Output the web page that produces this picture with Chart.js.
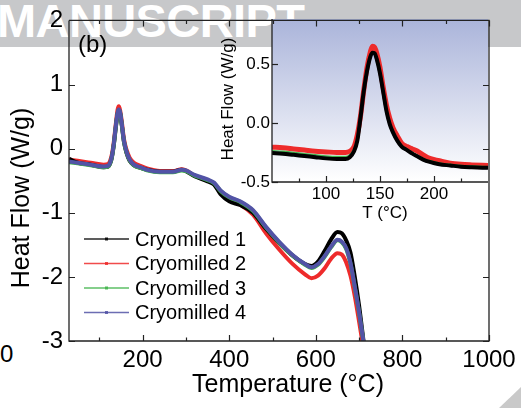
<!DOCTYPE html>
<html lang="en">
<head>
<meta charset="UTF-8">
<title>DSC - Cryomilled</title>
<script src="https://cdn.jsdelivr.net/npm/chart.js@4"></script>
<style>
    body {
        margin: 0;
        padding: 0;
        background: #ffffff;
    }
    #wrap {
        position: relative;
        width: 521px;
        height: 408px;
        overflow: hidden;
        font-family: 'Liberation Sans', Arial, sans-serif;
    }
    #band {
        position: absolute;
        left: 0; top: 0;
        width: 521px; height: 47px;
        background: #c7c8ca;
    }
    #mark {
        position: absolute;
        left: -3px; top: -3px;
        font-size: 47px;
        line-height: 47px;
        font-weight: bold;
        letter-spacing: -0.6px;
        color: #ffffff;
        white-space: nowrap;
    }
    #corner {
        position: absolute;
        left: 0; top: 0;
        width: 521px; height: 408px;
        background: #c9c9c9;
        clip-path: polygon(521px 387px, 521px 408px, 499px 408px);
    }
    #lost {
        position: absolute;
        left: 0px; top: 340px;
        font-size: 24px;
        color: #000;
    }
    canvas {
        position: absolute;
        left: 0; top: 0;
    }
</style>
</head>
<body>
<div id="wrap">
    <div id="band"></div>
    <div id="mark">MANUSCRIPT</div>
    <div id="corner"></div>
    <div id="lost">0</div>
    <canvas id="mainChart" width="521" height="408"></canvas>
    <canvas id="insetChart" width="521" height="408"></canvas>
</div>

<script>
    // ---- data ----
    const seriesNames = ['Cryomilled 1', 'Cryomilled 2', 'Cryomilled 3', 'Cryomilled 4'];

    // full scan (°C)
    const tempMain = [30, 50, 80, 110, 120, 128, 133, 138, 142, 145, 148, 152, 157, 163, 170, 180, 195, 210, 240, 270,
        290, 300, 320, 350, 365, 380, 400, 425, 455, 485, 515, 545, 575, 590, 605, 620, 635, 650, 660, 670, 680, 690, 700, 712];
    const flow1 = [-0.16, -0.22, -0.25, -0.29, -0.28, -0.17, 0.03, 0.32, 0.53, 0.60, 0.55, 0.36, 0.10, -0.07, -0.19, -0.26, -0.30, -0.33, -0.36, -0.36,
        -0.33, -0.35, -0.43, -0.51, -0.56, -0.71, -0.82, -0.88, -1.00, -1.25, -1.47, -1.66, -1.80, -1.83, -1.76, -1.60, -1.42, -1.30, -1.32, -1.43, -1.62, -2.00, -2.45, -3.1];
    const flow2 = [-0.17, -0.19, -0.22, -0.25, -0.24, -0.12, 0.08, 0.38, 0.60, 0.66, 0.60, 0.42, 0.15, -0.02, -0.14, -0.22, -0.27, -0.31, -0.35, -0.35,
        -0.32, -0.34, -0.42, -0.50, -0.55, -0.69, -0.80, -0.87, -1.03, -1.32, -1.57, -1.79, -1.96, -2.02, -1.98, -1.87, -1.72, -1.63, -1.65, -1.77, -1.98, -2.30, -2.70, -3.2];
    const flow3 = [-0.21, -0.23, -0.26, -0.29, -0.28, -0.16, 0.04, 0.34, 0.54, 0.60, 0.56, 0.37, 0.11, -0.06, -0.18, -0.26, -0.30, -0.34, -0.37, -0.37,
        -0.34, -0.35, -0.42, -0.49, -0.54, -0.66, -0.76, -0.83, -0.97, -1.23, -1.46, -1.66, -1.81, -1.86, -1.81, -1.69, -1.54, -1.43, -1.46, -1.56, -1.79, -2.16, -2.56, -3.1];
    const flow4 = [-0.20, -0.22, -0.25, -0.28, -0.27, -0.15, 0.05, 0.35, 0.55, 0.61, 0.57, 0.38, 0.12, -0.05, -0.17, -0.25, -0.29, -0.33, -0.36, -0.36,
        -0.33, -0.34, -0.41, -0.48, -0.53, -0.65, -0.75, -0.82, -0.96, -1.22, -1.45, -1.65, -1.80, -1.85, -1.80, -1.68, -1.53, -1.42, -1.45, -1.55, -1.78, -2.15, -2.55, -3.1];

    // inset, zoom on the low-temperature peak
    const tempInset = [50, 60, 70, 80, 90, 100, 110, 118, 122, 126, 129, 132, 135, 138, 141, 143, 145, 147, 150, 153,
        156, 159, 162, 166, 170, 175, 180, 184, 190, 196, 205, 215, 225, 235, 250];
    const inset1 = [-0.255, -0.26, -0.27, -0.28, -0.29, -0.30, -0.305, -0.305, -0.29, -0.24, -0.15, 0.05, 0.27, 0.44, 0.56, 0.595, 0.59, 0.54, 0.42, 0.26,
        0.10, -0.01, -0.08, -0.15, -0.20, -0.23, -0.26, -0.28, -0.31, -0.33, -0.35, -0.36, -0.37, -0.375, -0.38];
    const inset2 = [-0.205, -0.21, -0.22, -0.23, -0.24, -0.245, -0.25, -0.25, -0.24, -0.20, -0.10, 0.06, 0.28, 0.47, 0.60, 0.65, 0.64, 0.59, 0.47, 0.30,
        0.15, 0.04, -0.04, -0.11, -0.17, -0.20, -0.22, -0.235, -0.27, -0.30, -0.32, -0.34, -0.35, -0.355, -0.36];
    const inset3 = [-0.235, -0.24, -0.25, -0.26, -0.27, -0.28, -0.285, -0.285, -0.27, -0.22, -0.14, 0.06, 0.28, 0.45, 0.57, 0.60, 0.595, 0.545, 0.43, 0.27,
        0.11, 0.00, -0.07, -0.14, -0.19, -0.22, -0.25, -0.27, -0.30, -0.32, -0.34, -0.35, -0.36, -0.365, -0.37];
    const inset4 = [-0.25, -0.255, -0.265, -0.275, -0.285, -0.295, -0.30, -0.30, -0.285, -0.235, -0.145, 0.05, 0.27, 0.44, 0.56, 0.59, 0.585, 0.535, 0.42, 0.26,
        0.10, -0.01, -0.08, -0.15, -0.20, -0.23, -0.26, -0.28, -0.31, -0.33, -0.35, -0.36, -0.37, -0.375, -0.38];

    const mainXTicks = [100, 200, 300, 400, 500, 600, 700, 800, 900, 1000];
    const mainYTicks = [-3, -2, -1, 0, 1, 2];
    const insetXTicks = [75, 100, 125, 150, 175, 200, 225];
    const insetYTicks = [-0.5, 0.0, 0.5];

    const lineColors = ['#000000', '#ee2b2b', '#3fb34a', '#5253a6'];
    const FONT = "'Liberation Sans', Arial, sans-serif";

    function pts(xs, ys) {
        return xs.map((x, i) => ({ x: x, y: ys[i] }));
    }

    // inward tick marks + box, drawn through the chart's own scales
    function drawTicks(chart, xt, yt, major, sides) {
        const ctx = chart.ctx;
        const a = chart.chartArea;
        const sx = chart.scales.x, sy = chart.scales.y;
        ctx.save();
        ctx.strokeStyle = '#222';
        ctx.lineWidth = 1.2;
        xt.forEach(v => {
            const px = Math.round(sx.getPixelForValue(v)) + 0.5;
            const len = major(v, 'x') ? 6 : 3.5;
            ctx.beginPath();
            ctx.moveTo(px, a.bottom); ctx.lineTo(px, a.bottom - len);
            if (sides.top) { ctx.moveTo(px, a.top); ctx.lineTo(px, a.top + len); }
            ctx.stroke();
        });
        yt.forEach(v => {
            const py = Math.round(sy.getPixelForValue(v)) + 0.5;
            ctx.beginPath();
            ctx.moveTo(a.left, py); ctx.lineTo(a.left + 6, py);
            if (sides.right) { ctx.moveTo(a.right, py); ctx.lineTo(a.right - 6, py); }
            ctx.stroke();
        });
        ctx.lineWidth = 1.3;
        ctx.beginPath();
        ctx.moveTo(a.left, a.top);
        ctx.lineTo(a.left, a.bottom);
        ctx.lineTo(a.right, a.bottom);
        if (sides.right) { ctx.lineTo(a.right, a.top); }
        if (sides.top) { ctx.lineTo(a.left, a.top); }
        ctx.stroke();
        ctx.restore();
    }

    // ---- inset chart (built first so main can paint its backdrop) ----
    const insetCtx = document.getElementById('insetChart').getContext('2d');
    const insetChart = new Chart(insetCtx, {
        type: 'line',
        data: {
            datasets: [
                { label: seriesNames[0], data: pts(tempInset, inset1), borderColor: lineColors[0], borderWidth: 4, order: 0 },
                { label: seriesNames[1], data: pts(tempInset, inset2), borderColor: lineColors[1], borderWidth: 5, order: 3 },
                { label: seriesNames[2], data: pts(tempInset, inset3), borderColor: lineColors[2], borderWidth: 1.5, order: 1 },
                { label: seriesNames[3], data: pts(tempInset, inset4), borderColor: lineColors[3], borderWidth: 3, order: 2 }
            ]
        },
        options: {
            responsive: false,
            animation: false,
            events: [],
            layout: { padding: { left: 232, top: 19, right: 33, bottom: 200 } },
            elements: { point: { radius: 0 }, line: { cubicInterpolationMode: 'monotone' } },
            plugins: { legend: { display: false }, tooltip: { enabled: false } },
            scales: {
                x: {
                    type: 'linear', min: 50, max: 250,
                    grid: { display: false, drawTicks: false },
                    border: { display: false },
                    afterBuildTicks: s => { s.ticks = insetXTicks.map(v => ({ value: v })); },
                    afterFit: s => { s.height = 26; },
                    ticks: {
                        autoSkip: false, maxRotation: 0, padding: 2, color: '#000',
                        font: { family: FONT, size: 17 },
                        callback: v => (v % 50 === 0 ? v : '')
                    }
                },
                y: {
                    min: -0.5, max: 0.88,
                    grid: { display: false, drawTicks: false },
                    border: { display: false },
                    afterBuildTicks: s => { s.ticks = insetYTicks.map(v => ({ value: v })); },
                    afterFit: s => { s.width = 40; },
                    ticks: {
                        padding: 2, color: '#000',
                        font: { family: FONT, size: 17 },
                        callback: v => v.toFixed(1)
                    }
                }
            }
        },
        plugins: [{
            id: 'insetDeco',
            afterDraw(chart) {
                drawTicks(chart, insetXTicks, insetYTicks, v => v % 50 === 0, { top: false, right: false });
                const ctx = chart.ctx;
                const a = chart.chartArea;
                ctx.save();
                ctx.fillStyle = '#000';
                ctx.font = '17px ' + FONT;
                ctx.textAlign = 'center';
                ctx.textBaseline = 'middle';
                ctx.fillText('T (°C)', (a.left + a.right) / 2 + 5, 213);
                ctx.translate(228, 99);
                ctx.rotate(-Math.PI / 2);
                ctx.fillText('Heat Flow (W/g)', 0, 0);
                ctx.restore();
            }
        }]
    });

    // ---- main chart ----
    const mainCtx = document.getElementById('mainChart').getContext('2d');
    const mainChart = new Chart(mainCtx, {
        type: 'line',
        data: {
            datasets: [
                { label: seriesNames[0], data: pts(tempMain, flow1), borderColor: lineColors[0], borderWidth: 4, order: 2 },
                { label: seriesNames[1], data: pts(tempMain, flow2), borderColor: lineColors[1], borderWidth: 4, order: 3 },
                { label: seriesNames[2], data: pts(tempMain, flow3), borderColor: lineColors[2], borderWidth: 4, order: 1 },
                { label: seriesNames[3], data: pts(tempMain, flow4), borderColor: lineColors[3], borderWidth: 4, order: 0 }
            ]
        },
        options: {
            responsive: false,
            animation: false,
            events: [],
            layout: { padding: { left: 0, top: 19, right: 32, bottom: 0 } },
            elements: { point: { radius: 0 }, line: { cubicInterpolationMode: 'monotone' } },
            plugins: { legend: { display: false }, tooltip: { enabled: false } },
            scales: {
                x: {
                    type: 'linear', min: 30, max: 1000,
                    grid: { display: false, drawTicks: false },
                    border: { display: false },
                    afterBuildTicks: s => { s.ticks = mainXTicks.map(v => ({ value: v })); },
                    afterFit: s => { s.height = 67; },
                    ticks: {
                        autoSkip: false, maxRotation: 0, padding: 5, color: '#000',
                        font: { family: FONT, size: 24 },
                        callback: v => (v % 200 === 0 ? v : '')
                    }
                },
                y: {
                    min: -3, max: 2,
                    grid: { display: false, drawTicks: false },
                    border: { display: false },
                    afterBuildTicks: s => { s.ticks = mainYTicks.map(v => ({ value: v })); },
                    afterFit: s => { s.width = 69; },
                    ticks: {
                        padding: 6, color: '#000',
                        font: { family: FONT, size: 24 }
                    }
                }
            }
        },
        plugins: [{
            id: 'mainDeco',
            beforeDraw(chart) {
                // backdrop of the inset panel
                const ia = insetChart.chartArea;
                const ctx = chart.ctx;
                const g = ctx.createLinearGradient(0, ia.top, 0, ia.bottom);
                g.addColorStop(0, '#aab4da');
                g.addColorStop(1, '#ffffff');
                ctx.save();
                ctx.fillStyle = g;
                ctx.fillRect(ia.left, ia.top, ia.right - ia.left, ia.bottom - ia.top);
                ctx.restore();
            },
            afterDraw(chart) {
                drawTicks(chart, mainXTicks, mainYTicks, v => v % 200 === 0, { top: true, right: true });
                const ctx = chart.ctx;
                ctx.save();
                ctx.fillStyle = '#000';
                ctx.textBaseline = 'middle';
                ctx.font = '24px ' + FONT;
                ctx.fillText('(b)', 78, 45);

                // axis titles
                ctx.font = '25px ' + FONT;
                ctx.textAlign = 'center';
                ctx.fillText('Temperature (°C)', 288, 385);
                ctx.save();
                ctx.translate(22, 198);
                ctx.rotate(-Math.PI / 2);
                ctx.fillText('Heat Flow (W/g)', 0, 0);
                ctx.restore();

                // legend
                ctx.textAlign = 'left';
                ctx.font = '20px ' + FONT;
                chart.data.datasets.forEach((ds, i) => {
                    const y = 239 + i * 24.5;
                    ctx.strokeStyle = ds.borderColor;
                    ctx.globalAlpha = 0.85;
                    ctx.lineWidth = 1.6;
                    ctx.beginPath();
                    ctx.moveTo(84, y); ctx.lineTo(129, y);
                    ctx.stroke();
                    ctx.fillStyle = ds.borderColor;
                    ctx.fillRect(105, y - 1.5, 3, 3);
                    ctx.globalAlpha = 1;
                    ctx.fillStyle = '#000';
                    ctx.fillText(ds.label, 135, y + 1);
                });
                ctx.restore();
            }
        }]
    });
</script>
</body>
</html>
